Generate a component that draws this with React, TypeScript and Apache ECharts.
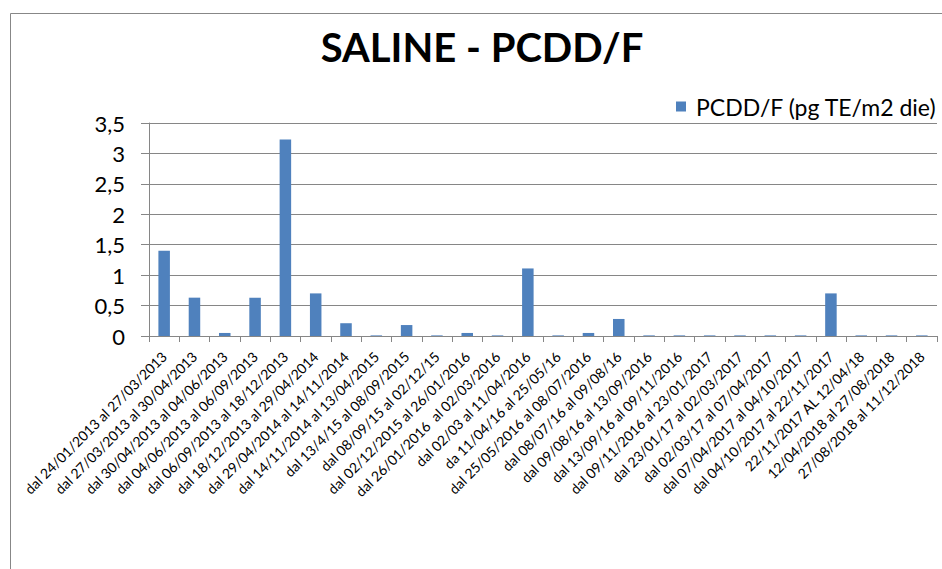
import React, { useEffect, useRef } from "react";
import * as echarts from "echarts";

const categories: string[] = [
  "dal 24/01/2013 al 27/03/2013",
  "dal 27/03/2013 al 30/04/2013",
  "dal 30/04/2013 al 04/06/2013",
  "dal 04/06/2013 al 06/09/2013",
  "dal 06/09/2013 al 18/12/2013",
  "dal 18/12/2013 al 29/04/2014",
  "dal 29/04/2014 al 14/11/2014",
  "dal 14/11/2014 al 13/04/2015",
  "dal 13/4/15 al 08/09/2015",
  "dal 08/09/15 al 02/12/15",
  "dal 02/12/2015 al 26/01/2016",
  "dal 26/01/2016  al 02/03/2016",
  "dal 02/03 al 11/04/2016",
  "da 11/04/16 al 25/05/16",
  "dal 25/05/2016 al 08/07/2016",
  "dal 08/07/16 al 09/08/16",
  "dal 09/08/16 al 13/09/2016",
  "dal 13/09/16 al 09/11/2016",
  "dal 09/11/2016 al 23/01/2017",
  "dal 23/01/17 al 02/03/2017",
  "dal 02/03/17 al 07/04/2017",
  "dal 07/04/2017 al 04/10/2017",
  "dal 04/10/2017 al 22/11/2017",
  "22/11/2017 AL 12/04/18",
  "12/04/2018 al 27/08/2018",
  "27/08/2018 al 11/12/2018",
];

const values: number[] = [
  1.4, 0.63, 0.05, 0.63, 3.23, 0.7, 0.21, 0.01, 0.18, 0.01, 0.05, 0.01, 1.11,
  0.01, 0.05, 0.28, 0.01, 0.01, 0.01, 0.01, 0.01, 0.01, 0.7, 0.01, 0.01, 0.01,
];

const seriesName = "PCDD/F (pg TE/m2 die)";
const titleText = "SALINE - PCDD/F";
const yMin = 0;
const yMax = 3.5;
const yStep = 0.5;

const FONT = "Lato, 'Noto Sans', sans-serif";

export default function App() {
  const ref = useRef<HTMLDivElement>(null);
  useEffect(() => {
    document.body.style.margin = "0";
    if (!ref.current) return;
    const chart = echarts.init(ref.current, null, { renderer: "svg" });
    chart.setOption({
      animation: false,
      backgroundColor: "#ffffff",
      textStyle: { fontFamily: FONT },
      title: {
        text: titleText,
        left: 477,
        textAlign: "center",
        top: 22,
        textStyle: { fontSize: 40, fontWeight: "bold", color: "#000", fontFamily: FONT },
      },
      legend: {
        left: 671,
        top: 90,
        itemWidth: 10,
        itemHeight: 10,
        icon: "rect",
        textStyle: { fontSize: 23, color: "#000", fontFamily: FONT, padding: [0, 0, 0, 5] },
        data: [seriesName],
      },
      graphic: [
        { type: "line", shape: { x1: 10.5, y1: 13.5, x2: 942, y2: 13.5 }, style: { stroke: "#878787", lineWidth: 1 } },
        { type: "line", shape: { x1: 10.5, y1: 13.5, x2: 10.5, y2: 569 }, style: { stroke: "#878787", lineWidth: 1 } },
      ],
      grid: { left: 149, right: 5, top: 123, bottom: 233, containLabel: false },
      xAxis: {
        type: "category",
        data: categories,
        boundaryGap: true,
        axisLine: { show: true, lineStyle: { color: "#868686", width: 1 } },
        axisTick: { show: true, alignWithLabel: false, length: 6, lineStyle: { color: "#868686" } },
        axisLabel: {
          interval: 0,
          rotate: 45,
          fontSize: 14,
          color: "#000",
          fontFamily: FONT,
          margin: 18,
        },
      },
      yAxis: {
        type: "value",
        min: yMin,
        max: yMax,
        interval: yStep,
        axisLine: { show: true, lineStyle: { color: "#868686", width: 1 } },
        axisTick: { show: true, length: 8, lineStyle: { color: "#868686" } },
        splitLine: { show: true, lineStyle: { color: "#868686", width: 1 } },
        axisLabel: {
          fontSize: 22,
          color: "#000",
          fontFamily: FONT,
          margin: 24,
          formatter: (v: number) => String(v).replace(".", ","),
        },
      },
      series: [
        {
          name: seriesName,
          type: "bar",
          data: values,
          barWidth: "38%",
          itemStyle: { color: "#4F81BD" },
        },
      ],
    });
    return () => chart.dispose();
  }, []);
  return <div ref={ref} style={{ width: 942, height: 569 }} />;
}
